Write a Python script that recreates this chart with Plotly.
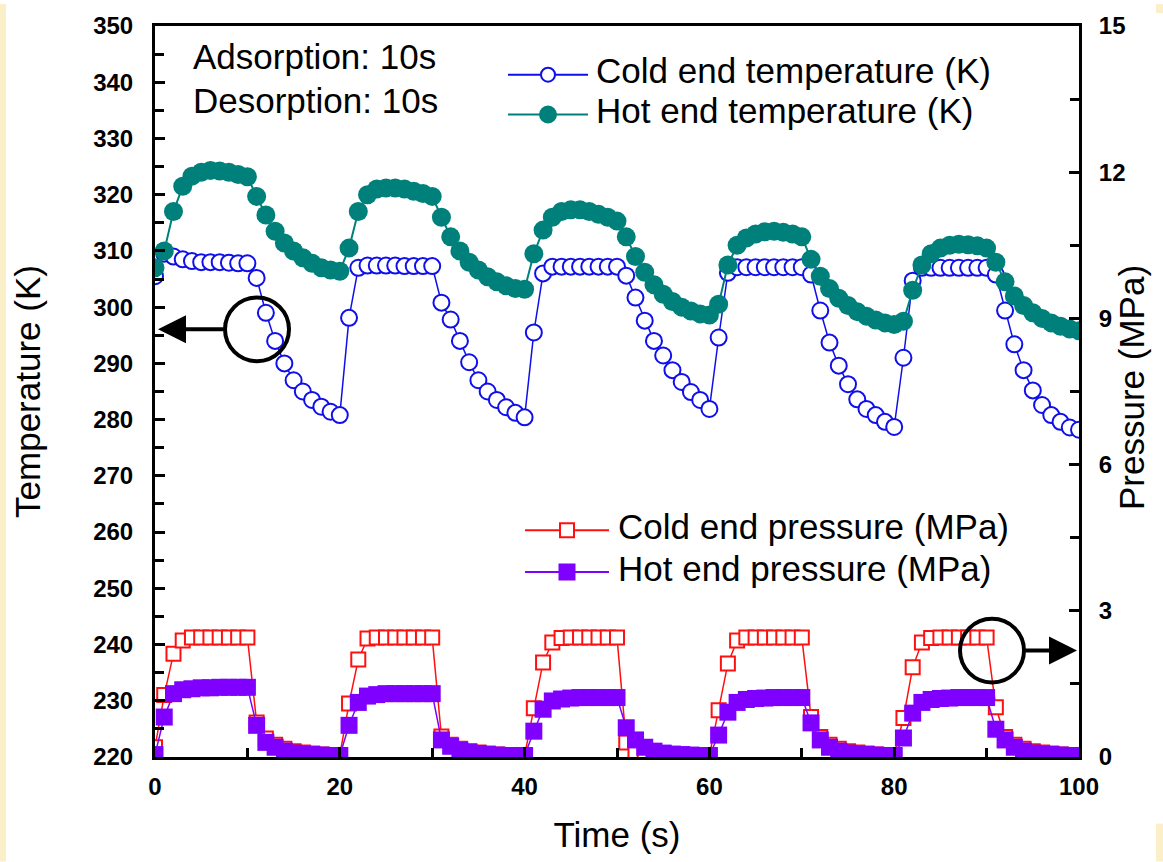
import plotly.graph_objects as go

# ---------------- data ----------------
time_s = list(range(101))

cold_T = [
    305.5, 309.5, 309.0, 308.5, 308.2, 308.0, 308.0, 308.0, 307.9, 307.8, 307.8,
    305.2, 299.0, 294.0, 290.0, 287.0, 285.0, 283.5, 282.3, 281.4, 280.8,
    298.1, 307.0, 307.4, 307.4, 307.4, 307.4, 307.3, 307.3, 307.3, 307.3,
    300.8, 297.8, 294.0, 290.2, 287.0, 285.0, 283.5, 282.2, 281.2, 280.4,
    295.5, 306.0, 307.2, 307.2, 307.2, 307.2, 307.2, 307.2, 307.2, 307.2,
    305.6, 301.7, 297.6, 294.0, 291.4, 288.8, 286.7, 284.9, 283.5, 281.9,
    294.6, 306.1, 307.1, 307.1, 307.1, 307.1, 307.1, 307.1, 307.1, 307.1,
    305.8, 299.4, 293.7, 289.6, 286.3, 283.6, 281.9, 280.8, 279.6, 278.7,
    291.0, 304.7, 307.0, 307.0, 307.0, 307.0, 307.0, 307.0, 307.0, 307.0,
    305.8, 299.4, 293.4, 288.8, 285.2, 282.6, 280.8, 279.6, 278.6, 278.2,
]

hot_T = [
    307.0, 310.0, 317.0, 321.5, 323.3, 324.0, 324.3, 324.2, 324.0, 323.6, 323.2,
    319.7, 316.4, 313.5, 311.4, 310.0, 308.8, 307.8, 307.0, 306.6, 306.4,
    310.5, 317.0, 320.0, 321.0, 321.2, 321.2, 321.0, 320.6, 320.2, 319.7,
    316.0, 312.5, 310.0, 308.0, 306.6, 305.4, 304.5, 303.8, 303.3, 303.2,
    309.5, 313.7, 316.0, 317.0, 317.3, 317.3, 317.0, 316.5, 316.0, 315.3,
    312.5, 309.0, 306.2, 304.0, 302.3, 301.0, 300.0, 299.3, 298.8, 298.6,
    300.5, 307.5, 311.0, 312.3, 313.0, 313.4, 313.5, 313.3, 313.0, 312.5,
    308.5, 305.5, 303.3, 301.6, 300.3, 299.2, 298.4, 297.7, 297.2, 296.9,
    297.5, 303.0, 307.5, 309.5, 310.5, 311.0, 311.2, 311.1, 310.9, 310.5,
    308.0, 304.5, 302.0, 300.3, 299.0, 298.0, 297.2, 296.6, 296.1, 295.8,
]

cold_P = [
    0.20, 1.27, 2.12, 2.39, 2.45, 2.45, 2.45, 2.45, 2.45, 2.45, 2.45,
    0.71, 0.38, 0.25, 0.17, 0.12, 0.09, 0.07, 0.05, 0.04, 0.04,
    1.10, 2.00, 2.43, 2.45, 2.45, 2.45, 2.45, 2.45, 2.45, 2.45,
    0.42, 0.25, 0.17, 0.12, 0.09, 0.07, 0.05, 0.04, 0.04, 0.03,
    1.00, 1.94, 2.35, 2.44, 2.45, 2.45, 2.45, 2.45, 2.45, 2.45,
    0.30, 0.12, 0.09, 0.07, 0.06, 0.05, 0.04, 0.04, 0.03, 0.03,
    0.96, 1.92, 2.39, 2.45, 2.45, 2.45, 2.45, 2.45, 2.45, 2.45,
    0.82, 0.41, 0.25, 0.17, 0.12, 0.09, 0.07, 0.05, 0.04, 0.04,
    0.80, 1.84, 2.35, 2.44, 2.45, 2.45, 2.45, 2.45, 2.45, 2.45,
    1.02, 0.41, 0.25, 0.17, 0.12, 0.09, 0.07, 0.05, 0.04, 0.04,
]

hot_P = [
    0.05, 0.82, 1.30, 1.38, 1.40, 1.42, 1.42, 1.43, 1.43, 1.43, 1.43,
    0.65, 0.30, 0.20, 0.12, 0.08, 0.06, 0.05, 0.04, 0.03, 0.03,
    0.65, 1.12, 1.25, 1.28, 1.30, 1.30, 1.30, 1.30, 1.30, 1.30,
    0.35, 0.22, 0.14, 0.10, 0.07, 0.05, 0.04, 0.03, 0.03, 0.03,
    0.53, 0.98, 1.15, 1.19, 1.21, 1.22, 1.22, 1.22, 1.22, 1.22,
    0.60, 0.35, 0.20, 0.12, 0.08, 0.06, 0.05, 0.04, 0.03, 0.03,
    0.45, 0.92, 1.12, 1.18, 1.20, 1.21, 1.22, 1.22, 1.22, 1.22,
    0.70, 0.35, 0.20, 0.12, 0.08, 0.06, 0.05, 0.04, 0.03, 0.03,
    0.39, 0.90, 1.12, 1.18, 1.20, 1.21, 1.22, 1.22, 1.22, 1.22,
    0.57, 0.35, 0.20, 0.12, 0.08, 0.06, 0.05, 0.04, 0.03, 0.03,
]

series_names = ["Cold end temperature (K)", "Hot end temperature (K)",
                "Cold end pressure (MPa)", "Hot end pressure (MPa)"]
notes = ["Adsorption: 10s", "Desorption: 10s"]

# ---------------- styling / layout helpers ----------------
W, H = 1163, 862
L, R, T, B = 155, 1079, 22, 757


def px(x):
    return (x - L) / (R - L)


def py(y):
    return (B - y) / (B - T)


FONT = "Liberation Sans, Arial, sans-serif"
BLUE = "#0F0FEB"
TEAL = "#00807A"
RED = "#FF1010"
PURPLE = "#8000FF"
CREAM = "#FBEFC9"

fig = go.Figure()
fig.add_trace(go.Scatter(
    x=time_s, y=cold_T, mode="lines+markers", name=series_names[0], showlegend=False,
    line=dict(color=BLUE, width=1.5),
    marker=dict(symbol="circle", size=16, color="white", line=dict(color=BLUE, width=2))))
fig.add_trace(go.Scatter(
    x=time_s, y=hot_T, mode="lines+markers", name=series_names[1], showlegend=False,
    line=dict(color=TEAL, width=2),
    marker=dict(symbol="circle", size=19, color=TEAL, line=dict(width=0))))
fig.add_trace(go.Scatter(
    x=time_s, y=cold_P, yaxis="y2", mode="lines+markers", name=series_names[2], showlegend=False,
    line=dict(color=RED, width=1.5),
    marker=dict(symbol="square", size=14, color="white", line=dict(color=RED, width=2))))
fig.add_trace(go.Scatter(
    x=time_s, y=hot_P, yaxis="y2", mode="lines+markers", name=series_names[3], showlegend=False,
    line=dict(color=PURPLE, width=1.5),
    marker=dict(symbol="square", size=17, color=PURPLE, line=dict(width=0))))

tickfont = dict(family=FONT, size=24, color="black", weight="bold")
titlefont = dict(family=FONT, size=35, color="black")
axis_common = dict(showgrid=False, zeroline=False, showline=True, linewidth=3, linecolor="black",
                   ticks="inside", ticklen=10, tickwidth=3, tickcolor="black", tickfont=tickfont)

shapes = []
annotations = []


# manual legend glyphs
def legend_row(x0, x1, y, color, symbol, filled, size, text, tx):
    shapes.append(dict(type="line", xref="paper", yref="paper", x0=px(x0), x1=px(x1),
                       y0=py(y), y1=py(y), line=dict(color=color, width=2), layer="above"))
    cx = (x0 + x1) / 2
    r = size / 2
    shapes.append(dict(type=symbol, xref="paper", yref="paper",
                       x0=px(cx - r), x1=px(cx + r), y0=py(y + r), y1=py(y - r),
                       fillcolor=color if filled else "white",
                       line=dict(color=color, width=2), layer="above"))
    annotations.append(dict(xref="paper", yref="paper", x=px(tx), y=py(y - 4), text=text,
                            showarrow=False, xanchor="left", yanchor="middle", font=titlefont))


legend_row(508, 588, 71, BLUE, "circle", False, 14, series_names[0], 594)
legend_row(508, 588, 111, TEAL, "circle", True, 16, series_names[1], 594)
legend_row(525, 609, 529, RED, "rect", False, 14, series_names[2], 616)
legend_row(525, 609, 571, PURPLE, "rect", True, 15, series_names[3], 616)

# text notes
annotations.append(dict(xref="paper", yref="paper", x=px(191), y=py(53), text=notes[0],
                        showarrow=False, xanchor="left", yanchor="middle", font=titlefont))
annotations.append(dict(xref="paper", yref="paper", x=px(191), y=py(97), text=notes[1],
                        showarrow=False, xanchor="left", yanchor="middle", font=titlefont))

# right axis title (placed explicitly to sit close to the tick labels as in the reference)
annotations.append(dict(xref="paper", yref="paper", x=px(1131), y=py(386), text="Pressure (MPa)",
                        showarrow=False, xanchor="center", yanchor="middle", textangle=-90,
                        font=titlefont))

# circles + arrows pointing to axes
for cx, cy, r in [(257, 327, 32), (992, 650, 32)]:
    shapes.append(dict(type="circle", xref="paper", yref="paper",
                       x0=px(cx - r), x1=px(cx + r), y0=py(cy + r), y1=py(cy - r),
                       line=dict(color="black", width=4), layer="above"))
annotations.append(dict(xref="paper", yref="paper", x=px(158), y=py(327), ax=67, ay=0,
                        text="", showarrow=True, arrowhead=2, arrowsize=1.4, arrowwidth=4,
                        arrowcolor="black"))
annotations.append(dict(xref="paper", yref="paper", x=px(1077), y=py(650), ax=-53, ay=0,
                        text="", showarrow=True, arrowhead=2, arrowsize=1.4, arrowwidth=4,
                        arrowcolor="black"))

# cream border strips of the scanned page
shapes.append(dict(type="rect", xref="paper", yref="paper", x0=px(0), x1=px(6), y0=py(H), y1=py(0),
                   fillcolor=CREAM, line=dict(width=0), layer="below"))
shapes.append(dict(type="rect", xref="paper", yref="paper", x0=px(1156), x1=px(W), y0=py(9), y1=py(0),
                   fillcolor=CREAM, line=dict(width=0), layer="below"))
shapes.append(dict(type="rect", xref="paper", yref="paper", x0=px(1156), x1=px(W), y0=py(H), y1=py(824),
                   fillcolor=CREAM, line=dict(width=0), layer="below"))

fig.update_layout(
    width=W, height=H,
    margin=dict(l=L, r=W - R, t=T, b=H - B, pad=0),
    paper_bgcolor="white", plot_bgcolor="white",
    showlegend=False,
    xaxis=dict(range=[0, 100], tick0=0, dtick=20, mirror=True, ticklabelstandoff=6,
               minor=dict(dtick=10, ticks="inside", ticklen=9, tickwidth=3, tickcolor="black"),
               title=dict(text="Time (s)", font=titlefont, standoff=24), **axis_common),
    yaxis=dict(range=[220, 350], tick0=220, dtick=10, ticklabelstandoff=14,
               minor=dict(dtick=5, ticks="inside", ticklen=9, tickwidth=3, tickcolor="black"),
               title=dict(text="Temperature (K)", font=titlefont, standoff=42), **axis_common),
    yaxis2=dict(range=[0, 15], tick0=0, dtick=3, overlaying="y", side="right", ticklabelstandoff=12,
                minor=dict(dtick=1.5, ticks="inside", ticklen=9, tickwidth=3, tickcolor="black"),
                **axis_common),
    shapes=shapes,
    annotations=annotations,
)

fig.write_html("out.html")
